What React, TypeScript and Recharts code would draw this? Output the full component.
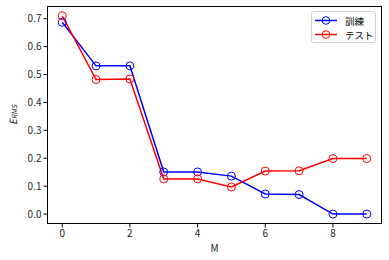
import { LineChart, Line, XAxis, YAxis } from 'recharts';

const degrees = [0, 1, 2, 3, 4, 5, 6, 7, 8, 9];
const trainErrors = [0.687, 0.531, 0.531, 0.151, 0.151, 0.136, 0.072, 0.070, 0.0, 0.0];
const testErrors = [0.710, 0.482, 0.484, 0.126, 0.126, 0.097, 0.154, 0.155, 0.199, 0.199];
const xTicks = [0, 2, 4, 6, 8];
const yTicks = [0, 0.1, 0.2, 0.3, 0.4, 0.5, 0.6, 0.7];
const seriesNames = ['訓練', 'テスト'];
const seriesColors = ['#0000ff', '#ff0000'];

const data = degrees.map((m, i) => ({ m, train: trainErrors[i], test: testErrors[i] }));

const FONT = '"Noto Sans CJK JP", "DejaVu Sans", sans-serif';
const tickStyle = { fontSize: 10, fill: '#262626', fontFamily: FONT };

// plot box (matches the chart margins below)
const BOX = { left: 47, top: 6, width: 335, height: 218 };

function LegendBox() {
  return (
    <div
      style={{
        position: 'absolute',
        left: 311,
        top: 11,
        width: 65,
        height: 32,
        boxSizing: 'border-box',
        border: '1px solid #d0d0d0',
        borderRadius: 3,
        background: 'rgba(255,255,255,0.8)',
        fontFamily: FONT,
        fontSize: 9.5,
        color: '#000',
      }}
    >
      {seriesNames.map((name, i) => (
        <div
          key={name}
          style={{ position: 'absolute', left: 2, top: 2 + i * 14, height: 13, display: 'flex', alignItems: 'center' }}
        >
          <svg width={24} height={13} style={{ display: 'block' }}>
            <line x1={1} y1={6.5} x2={23} y2={6.5} stroke={seriesColors[i]} strokeWidth={1.5} />
            <circle cx={12} cy={6.5} r={3.8} fill="none" stroke={seriesColors[i]} strokeWidth={1} />
          </svg>
          <span style={{ marginLeft: 7, lineHeight: '10px', height: 10, whiteSpace: 'nowrap' }}>{name}</span>
        </div>
      ))}
    </div>
  );
}

export default function App() {
  return (
    <div style={{ position: 'absolute', left: 0, top: 0, width: 389, height: 260, background: '#fff' }}>
      <LineChart width={389} height={260} data={data} margin={{ top: 6, right: 7, bottom: 6, left: 0 }}>
        <XAxis
          dataKey="m"
          type="number"
          domain={[-0.45, 9.45]}
          ticks={xTicks}
          allowDataOverflow
          tickSize={3.5}
          tick={tickStyle}
          tickLine={{ stroke: '#000' }}
          axisLine={false}
          height={30}
          label={{ value: 'M', position: 'insideBottom', offset: 2, style: { fontSize: 10, fill: '#262626', fontFamily: FONT } }}
        />
        <YAxis
          type="number"
          domain={[-0.0355, 0.7455]}
          ticks={yTicks}
          allowDataOverflow
          tickSize={3.5}
          tick={tickStyle}
          tickLine={{ stroke: '#000' }}
          axisLine={false}
          tickFormatter={(v: number) => v.toFixed(1)}
          width={47}
          label={(props: any) => {
            const vb = props.viewBox;
            const cx = 12;
            const cy = vb.y + vb.height / 2;
            return (
              <text
                x={cx}
                y={cy}
                transform={`rotate(-90, ${cx}, ${cy})`}
                textAnchor="middle"
                dominantBaseline="central"
                fontFamily={FONT}
                fontSize={10}
                fill="#262626"
              >
                <tspan fontStyle="italic">E</tspan>
                <tspan fontStyle="italic" fontSize={7} dy={2}>RMS</tspan>
              </text>
            );
          }}
        />
        <Line
          dataKey="train"
          name={seriesNames[0]}
          stroke={seriesColors[0]}
          strokeWidth={1.5}
          dot={{ r: 4, fill: 'none', stroke: seriesColors[0], strokeWidth: 1 }}
          activeDot={false}
          isAnimationActive={false}
        />
        <Line
          dataKey="test"
          name={seriesNames[1]}
          stroke={seriesColors[1]}
          strokeWidth={1.5}
          dot={{ r: 4, fill: 'none', stroke: seriesColors[1], strokeWidth: 1 }}
          activeDot={false}
          isAnimationActive={false}
        />
      </LineChart>
      <svg
        width={389}
        height={260}
        style={{ position: 'absolute', left: 0, top: 0, pointerEvents: 'none' }}
      >
        <rect
          x={BOX.left + 0.5}
          y={BOX.top + 0.5}
          width={BOX.width - 1}
          height={BOX.height - 1}
          fill="none"
          stroke="#000"
          strokeWidth={1}
        />
      </svg>
      <LegendBox />
    </div>
  );
}
